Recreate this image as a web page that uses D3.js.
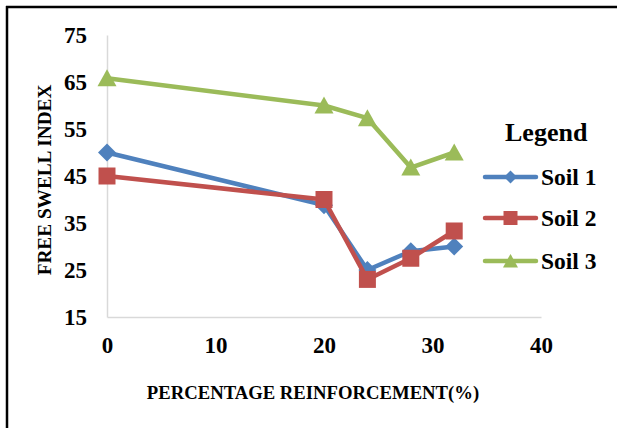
<!DOCTYPE html>
<html>
<head>
<meta charset="utf-8">
<script src="https://cdn.jsdelivr.net/npm/d3@7"></script>
<style>
  html, body { margin: 0; padding: 0; background: #fff; }
  svg { display: block; }
  text { font-family: "Liberation Serif", "Times New Roman", serif; font-weight: bold; fill: #000; }
</style>
</head>
<body>
<svg id="chart" width="617" height="428"></svg>
<script>
// Reinforcement percentage (x) and free swell index per soil
const reinforcement = [0, 20, 24, 28, 32];
const soil1 = [50, 38.8, 25, 29, 30];
const soil2 = [45, 40, 23, 27.5, 33.3];
const soil3 = [65.8, 60, 57.3, 46.8, 50];
const seriesNames = ["Soil 1", "Soil 2", "Soil 3"];
const xTicks = [0, 10, 20, 30, 40];
const yTicks = [15, 25, 35, 45, 55, 65, 75];

const colors = ["#4F81BD", "#C0504D", "#9BBB59"];
const FONT = "'Liberation Serif', 'Times New Roman', serif";

// Marker shapes, r = half of the marker's width
const markers = [
  r => `M0,${-r}L${r},0L0,${r}L${-r},0Z`,
  r => `M${-r},${-r}H${r}V${r}H${-r}Z`,
  r => `M0,${-r * 0.95}L${r},${r * 0.85}H${-r}Z`
];
const plotR = [9, 8.5, 9.5];
const legendR = [6.5, 7, 7.5];

const svg = d3.select("#chart");

// Outer frame (top and left edges visible)
svg.append("line").attr("x1", 6).attr("x2", 617).attr("y1", 7).attr("y2", 7)
  .attr("stroke", "#000").attr("stroke-width", 2.5);
svg.append("line").attr("x1", 7).attr("x2", 7).attr("y1", 6).attr("y2", 428)
  .attr("stroke", "#000").attr("stroke-width", 2.5);

const x = d3.scaleLinear().domain([0, 40]).range([107, 541]);
const y = d3.scaleLinear().domain([15, 75]).range([317, 35]);

// Axes
const xAxis = svg.append("g").attr("transform", `translate(0,${y(15)})`)
  .call(d3.axisBottom(x).tickValues(xTicks).tickSize(0).tickPadding(20));
const yAxis = svg.append("g").attr("transform", `translate(${x(0)},0)`)
  .call(d3.axisLeft(y).tickValues(yTicks).tickSize(0).tickPadding(20));
[xAxis, yAxis].forEach(g => {
  g.attr("font-family", FONT);
  g.select(".domain").attr("stroke", "#d9d9d9").attr("stroke-width", 1.5);
  g.selectAll("text").style("font-family", FONT)
    .style("font-weight", "bold").style("font-size", "23px").attr("fill", "#000");
});
xAxis.selectAll("text").attr("dy", "0.68em");
yAxis.selectAll("text").attr("dy", "0.34em");

// Axis titles
svg.append("text").attr("x", 313).attr("y", 399).attr("text-anchor", "middle")
  .style("font-size", "18.7px").text("PERCENTAGE REINFORCEMENT(%)");
svg.append("text").attr("transform", "translate(51,180) rotate(-90)")
  .attr("text-anchor", "middle").style("font-size", "19.3px").text("FREE SWELL INDEX");

// Series
const allSeries = [soil1, soil2, soil3];
const line = d3.line().x(d => x(d[0])).y(d => y(d[1]));
allSeries.forEach((vals, i) => {
  const pts = reinforcement.map((r, j) => [r, vals[j]]);
  svg.append("path").datum(pts).attr("d", line)
    .attr("fill", "none").attr("stroke", colors[i]).attr("stroke-width", 4.5)
    .attr("stroke-linejoin", "round");
  svg.selectAll(null).data(pts).enter().append("path")
    .attr("d", markers[i](plotR[i]))
    .attr("transform", d => `translate(${x(d[0])},${y(d[1])})`)
    .attr("fill", colors[i]);
});

// Legend
svg.append("text").attr("x", 505).attr("y", 141).style("font-size", "26px").text("Legend");
const legendY = [177, 218, 261];
seriesNames.forEach((name, i) => {
  const g = svg.append("g").attr("transform", `translate(0,${legendY[i]})`);
  g.append("line").attr("x1", 485).attr("x2", 536).attr("y1", 0).attr("y2", 0)
    .attr("stroke", colors[i]).attr("stroke-width", 4.5).attr("stroke-linecap", "round");
  g.append("path").attr("d", markers[i](legendR[i]))
    .attr("transform", "translate(510.5,0)").attr("fill", colors[i]);
  g.append("text").attr("x", 541).attr("y", 8).style("font-size", "23.5px").text(name);
});
</script>
</body>
</html>
